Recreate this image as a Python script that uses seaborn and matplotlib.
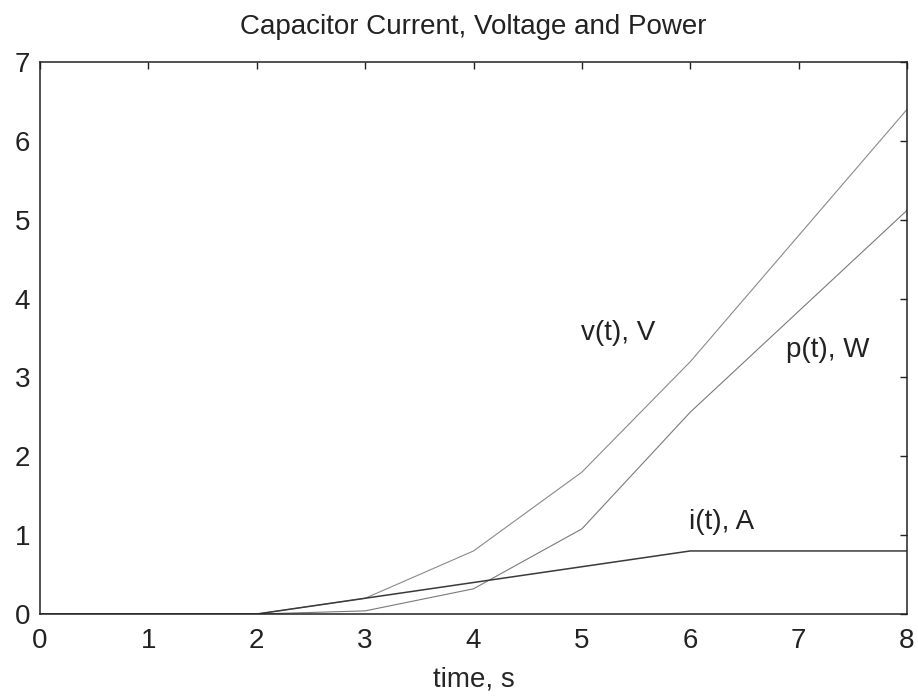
"""
Capacitor current, voltage and power vs time (MATLAB-style figure).
"""

import pandas as pd
import matplotlib
matplotlib.use("Agg")
import matplotlib.pyplot as plt
import seaborn as sns

# values
time_s = [0, 1, 2, 3, 4, 5, 6, 7, 8]
current_a = [0, 0, 0, 0.2, 0.4, 0.6, 0.8, 0.8, 0.8]
voltage_v = [0, 0, 0, 0.2, 0.8, 1.8, 3.2, 4.8, 6.4]
power_w = [0, 0, 0, 0.04, 0.32, 1.08, 2.56, 3.84, 5.12]

series_names = ["v(t), V", "p(t), W", "i(t), A"]
x_ticks = [0, 1, 2, 3, 4, 5, 6, 7, 8]
y_ticks = [0, 1, 2, 3, 4, 5, 6, 7]


def plot_capacitor(df):
    sns.set_style("white")
    plt.rcParams["font.family"] = ["Liberation Sans", "DejaVu Sans"]
    plt.rcParams["text.color"] = "#222222"

    fig = plt.figure(figsize=(9.18, 6.98), dpi=100)
    ax = fig.add_axes([0.0436, 0.1203, 0.9444, 0.7907])

    # light grey for v and p, dark for i
    palette = {"v(t), V": "#8a8a8a", "p(t), W": "#7a7a7a", "i(t), A": "#3a3a3a"}
    widths = {"v(t), V": 0.8, "p(t), W": 0.8, "i(t), A": 1.1}
    for name in series_names:
        sub = df[df["series"] == name]
        sns.lineplot(data=sub, x="time", y="value", color=palette[name],
                     linewidth=widths[name], ax=ax, legend=False)

    # inline labels like the original
    ax.text(4.99, 3.56, "v(t), V", fontsize=20, ha="left", va="center")
    ax.text(6.88, 3.35, "p(t), W", fontsize=20, ha="left", va="center")
    ax.text(5.99, 1.17, "i(t), A", fontsize=20, ha="left", va="center")

    ax.set_xlim(0, 8)
    ax.set_ylim(0, 7)
    ax.set_xticks(x_ticks)
    ax.set_yticks(y_ticks)
    ax.tick_params(direction="in", length=5, width=1.0, color="#222222",
                   top=True, right=True, labelsize=20, labelcolor="#222222")
    ax.tick_params(axis="x", pad=10)
    ax.tick_params(axis="y", pad=7)
    for spine in ax.spines.values():
        spine.set_visible(True)
        spine.set_color("#222222")
        spine.set_linewidth(1.1)

    ax.set_xlabel("time, s", fontsize=20, labelpad=9)
    ax.set_ylabel("")
    ax.set_title("Capacitor Current, Voltage and Power", fontsize=20, pad=20)

    fig.savefig("out.png", dpi=100)


if __name__ == "__main__":
    rows = []
    for name, vals in zip(series_names, [voltage_v, power_w, current_a]):
        for t, v in zip(time_s, vals):
            rows.append({"time": t, "value": v, "series": name})
    plot_capacitor(pd.DataFrame(rows))
